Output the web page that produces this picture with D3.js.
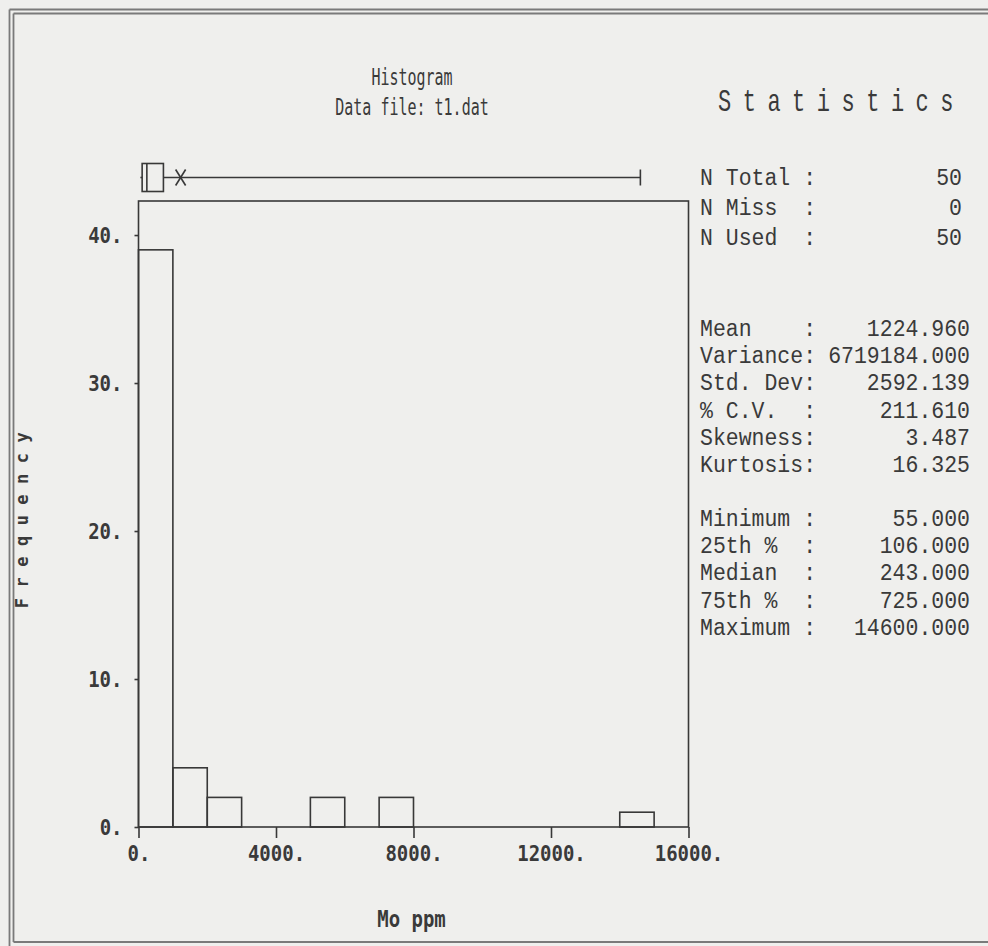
<!DOCTYPE html>
<html>
<head>
<meta charset="utf-8">
<script src="https://cdn.jsdelivr.net/npm/d3@7/dist/d3.min.js"></script>
<style>
    html, body { margin: 0; padding: 0; background: #efefed; }
    svg text { fill: #3a3a3a; white-space: pre; }
</style>
</head>
<body>
<div id="chart"></div>
<script>
// ---- data ----
const binStarts = [0, 1000, 2000, 3000, 4000, 5000, 6000, 7000, 8000, 9000, 10000, 11000, 12000, 13000, 14000, 15000];
const binCounts = [39, 4, 2, 0, 0, 2, 0, 2, 0, 0, 0, 0, 0, 0, 1, 0];
const binWidth = 1000;
const xTicks = [0, 4000, 8000, 12000, 16000];
const yTicks = [0, 10, 20, 30, 40];

// box plot above the histogram: min, q1, median, q3, max, mean
const boxValues = [55, 106, 243, 725, 14600, 1224.96];

const countLabels = ['N Total :', 'N Miss  :', 'N Used  :'];
const countValues = [50, 0, 50];
const momentLabels = ['Mean    :', 'Variance:', 'Std. Dev:', '% C.V.  :', 'Skewness:', 'Kurtosis:'];
const momentValues = [1224.96, 6719184.0, 2592.139, 211.61, 3.487, 16.325];
const quantileLabels = ['Minimum :', '25th %  :', 'Median  :', '75th %  :', 'Maximum :'];
const quantileValues = [55, 106, 243, 725, 14600];

const titleLines = ['Histogram', 'Data file: t1.dat'];
const xAxisTitle = 'Mo ppm';
const yAxisTitle = 'Frequency';
const statsTitle = 'Statistics';

class Chart {
    constructor() {
        const attrs = {
            svgWidth: 988,
            svgHeight: 946,
            marginTop: 201,
            marginLeft: 138.5,
            chartWidth: 550,
            chartHeight: 626,
            yMax: 42.3,
            container: '#chart',
            lineColor: '#383838',
            monoFont: "'DejaVu Sans Mono', monospace",
            statFont: "'Liberation Mono', 'DejaVu Sans Mono', monospace"
        };
        this.getState = () => attrs;
        this.setState = (d) => Object.assign(attrs, d);
        this.initializeEnterExitUpdatePattern();
    }

    initializeEnterExitUpdatePattern() {
        d3.selection.prototype.patternify = function (params) {
            const selector = params.selector;
            const data = params.data || [selector];
            let selection = this.selectAll('.' + selector).data(data);
            selection.exit().remove();
            selection = selection.enter().append(params.tag).merge(selection);
            selection.attr('class', selector);
            return selection;
        };
    }

    render() {
        this.drawSvgAndWrappers();
        this.drawFrame();
        this.drawAxes();
        this.drawBars();
        this.drawBoxPlot();
        this.drawTitles();
        this.drawStats();
    }

    drawSvgAndWrappers() {
        const { container, svgWidth, svgHeight, marginLeft, marginTop } = this.getState();
        const svg = d3.select(container)
            .patternify({ tag: 'svg', selector: 'svg-chart-container' })
            .attr('width', svgWidth)
            .attr('height', svgHeight)
            .style('display', 'block');

        svg.patternify({ tag: 'rect', selector: 'paper' })
            .attr('width', svgWidth)
            .attr('height', svgHeight)
            .attr('fill', '#efefed');

        const chart = svg.patternify({ tag: 'g', selector: 'chart' })
            .attr('transform', `translate(${marginLeft},${marginTop})`);

        this.setState({ svg, chart });
    }

    drawFrame() {
        const { svg, svgWidth } = this.getState();
        // double rule round the screen dump
        const rules = [
            { x1: 9.5, y1: 9.5, x2: svgWidth, y2: 9.5 },
            { x1: 13.5, y1: 13.5, x2: svgWidth, y2: 13.5 },
            { x1: 9.5, y1: 9.5, x2: 9.5, y2: 946 },
            { x1: 13.5, y1: 13.5, x2: 13.5, y2: 942 },
            { x1: 13.5, y1: 942, x2: svgWidth, y2: 942 }
        ];
        svg.patternify({ tag: 'line', selector: 'frame-rule', data: rules })
            .attr('x1', d => d.x1).attr('y1', d => d.y1)
            .attr('x2', d => d.x2).attr('y2', d => d.y2)
            .attr('stroke', '#7a7a7a')
            .attr('stroke-width', 1.8);
    }

    drawAxes() {
        const { chart, chartWidth, chartHeight, yMax, lineColor, monoFont } = this.getState();

        const xScale = d3.scaleLinear().domain([0, 16000]).range([0, chartWidth]);
        const yScale = d3.scaleLinear().domain([0, yMax]).range([chartHeight, 0]);

        const xAxis = d3.axisBottom(xScale).tickValues(xTicks).tickSize(11).tickPadding(5).tickFormat(d => d + '.');
        const yAxis = d3.axisLeft(yScale).tickValues(yTicks).tickSize(4).tickPadding(12).tickFormat(d => d + '.');

        const axisWrapper = chart.patternify({ tag: 'g', selector: 'axis-wrapper' });
        axisWrapper.patternify({ tag: 'g', selector: 'x-axis-wrapper' })
            .attr('transform', `translate(0,${chartHeight})`)
            .call(xAxis);
        axisWrapper.patternify({ tag: 'g', selector: 'y-axis-wrapper' })
            .call(yAxis);

        axisWrapper.selectAll('.domain').remove();
        axisWrapper.selectAll('.tick line')
            .attr('stroke', lineColor)
            .attr('stroke-width', 1.6);
        axisWrapper.selectAll('text')
            .attr('font-family', monoFont)
            .attr('font-size', 19)
            .attr('font-weight', 'bold')
            .attr('fill', '#4a4a4a')
            .attr('transform', 'scale(1,1.15)');

        // plot box
        chart.patternify({ tag: 'rect', selector: 'plot-box' })
            .attr('x', 0)
            .attr('y', yScale(yMax))
            .attr('width', chartWidth)
            .attr('height', chartHeight - yScale(yMax))
            .attr('fill', 'none')
            .attr('stroke', lineColor)
            .attr('stroke-width', 1.6);

        this.setState({ xScale, yScale });
    }

    drawBars() {
        const { chart, xScale, yScale, lineColor } = this.getState();
        const bins = binStarts.map((start, i) => ({ start, count: binCounts[i] })).filter(d => d.count > 0);

        chart.patternify({ tag: 'rect', selector: 'bar', data: bins })
            .attr('x', d => xScale(d.start))
            .attr('y', d => yScale(d.count))
            .attr('width', d => xScale(d.start + binWidth) - xScale(d.start))
            .attr('height', d => yScale(0) - yScale(d.count))
            .attr('fill', 'none')
            .attr('stroke', lineColor)
            .attr('stroke-width', 1.6);
    }

    drawBoxPlot() {
        const { chart, xScale, lineColor } = this.getState();
        const [min, q1, median, q3, max, mean] = boxValues;
        const cy = -23.5, half = 14;
        const g = chart.patternify({ tag: 'g', selector: 'box-plot' })
            .attr('stroke', lineColor)
            .attr('stroke-width', 1.6)
            .attr('fill', 'none');

        g.patternify({ tag: 'rect', selector: 'box' })
            .attr('x', xScale(q1))
            .attr('y', cy - half)
            .attr('width', xScale(q3) - xScale(q1))
            .attr('height', half * 2);

        const segs = [
            { x1: xScale(median), y1: cy - half, x2: xScale(median), y2: cy + half },
            { x1: xScale(min), y1: cy, x2: xScale(q1), y2: cy },
            { x1: xScale(q3), y1: cy, x2: xScale(max), y2: cy },
            { x1: xScale(max), y1: cy - 8, x2: xScale(max), y2: cy + 8 },
            // mean marked with an X
            { x1: xScale(mean) - 5, y1: cy - 8, x2: xScale(mean) + 5, y2: cy + 8 },
            { x1: xScale(mean) + 5, y1: cy - 8, x2: xScale(mean) - 5, y2: cy + 8 }
        ];
        g.patternify({ tag: 'line', selector: 'box-seg', data: segs })
            .attr('x1', d => d.x1).attr('y1', d => d.y1)
            .attr('x2', d => d.x2).attr('y2', d => d.y2);
    }

    drawTitles() {
        const { svg, chart, chartWidth, chartHeight, monoFont, statFont, marginTop } = this.getState();

        svg.patternify({ tag: 'text', selector: 'title-line', data: titleLines })
            .text(d => d)
            .attr('font-family', monoFont)
            .attr('font-size', 15)
            .attr('text-anchor', 'middle')
            .attr('transform', (d, i) => `translate(412,${85 + i * 30}) scale(1,1.5)`);

        chart.patternify({ tag: 'text', selector: 'x-axis-title' })
            .text(xAxisTitle)
            .attr('font-family', monoFont)
            .attr('font-size', 19)
            .attr('font-weight', 'bold')
            .attr('fill', '#4a4a4a')
            .attr('text-anchor', 'middle')
            .attr('transform', `translate(${chartWidth / 2 - 2},${chartHeight + 100}) scale(1,1.2)`);

        svg.patternify({ tag: 'text', selector: 'y-axis-title' })
            .text(yAxisTitle)
            .attr('font-family', monoFont)
            .attr('font-size', 17)
            .attr('font-weight', 'bold')
            .attr('fill', '#2a2a2a')
            .attr('letter-spacing', 10.5)
            .attr('text-anchor', 'middle')
            .attr('transform', `translate(28,${marginTop + 314}) rotate(-90)`);

        svg.patternify({ tag: 'text', selector: 'stats-title' })
            .text(statsTitle)
            .attr('font-family', statFont)
            .attr('font-size', 22)
            .attr('letter-spacing', 11.5)
            .attr('transform', 'translate(718,111) scale(1,1.45)');
    }

    drawStats() {
        const { svg, statFont } = this.getState();
        const fmt = d3.format('.3f');
        const groups = [
            { top: 185, rowH: 30, labels: countLabels, values: countValues, format: d3.format('d'), right: 962 },
            { top: 336, rowH: 27.2, labels: momentLabels, values: momentValues, format: fmt, right: 970 },
            { top: 526, rowH: 27.2, labels: quantileLabels, values: quantileValues, format: fmt, right: 970 }
        ];
        const rows = [];
        groups.forEach((g, gi) => g.labels.forEach((label, i) => rows.push({
            label, value: g.format(g.values[i]), y: g.top + i * g.rowH, right: g.right
        })));

        const wrap = svg.patternify({ tag: 'g', selector: 'stats' })
            .attr('font-family', statFont)
            .attr('font-size', 21.5);

        wrap.patternify({ tag: 'text', selector: 'stat-label', data: rows })
            .text(d => d.label)
            .attr('transform', d => `translate(700,${d.y}) scale(1,1.15)`);

        wrap.patternify({ tag: 'text', selector: 'stat-value', data: rows })
            .text(d => d.value)
            .attr('text-anchor', 'end')
            .attr('transform', d => `translate(${d.right},${d.y}) scale(1,1.15)`);
    }
}

new Chart().render();
</script>
</body>
</html>
